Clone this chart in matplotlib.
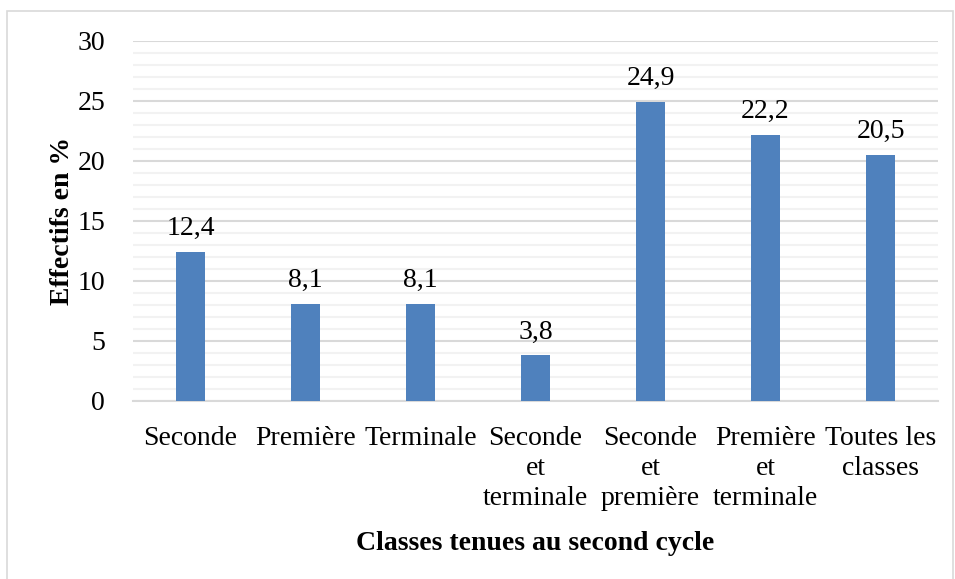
import matplotlib
matplotlib.use("Agg")
import matplotlib.pyplot as plt
from matplotlib.patches import Rectangle
import numpy as np

categories = ["Seconde", "Première", "Terminale", "Seconde\net\nterminale",
              "Seconde\net\npremière", "Première\net\nterminale", "Toutes les\nclasses"]
values = [12.4, 8.1, 8.1, 3.8, 24.9, 22.2, 20.5]
labels = ["12,4", "8,1", "8,1", "3,8", "24,9", "22,2", "20,5"]
yticks = [0, 5, 10, 15, 20, 25, 30]

plt.rcParams['font.family'] = ['Liberation Serif', 'DejaVu Serif']

W, H = 955, 579
fig = plt.figure(figsize=(W / 100, H / 100), dpi=100)
ax = fig.add_axes([133 / W, 1 - 401 / H, (938 - 133) / W, (401 - 41) / H])

x = np.arange(len(categories))
ax.bar(x, values, width=0.25, color="#4F81BD", zorder=3)
for xi, v, lab in zip(x, values, labels):
    ax.text(xi, v + 0.9, lab, ha="center", va="bottom", fontsize=20, color="#000000")

ax.set_xlim(-0.5, len(categories) - 0.5)
ax.set_ylim(0, 30)
ax.set_yticks(yticks)
ax.set_yticklabels([str(t) for t in yticks], fontsize=20)
ax.set_yticks(np.arange(0, 31, 1), minor=True)
ax.set_xticks(x)
ax.set_xticklabels(categories, fontsize=20, linespacing=1.27)
ax.tick_params(axis="both", which="both", length=0)
ax.tick_params(axis="y", pad=20)
ax.tick_params(axis="x", pad=18)
ax.grid(axis="y", which="major", color="#D9D9D9", linewidth=1.5, zorder=0)
ax.grid(axis="y", which="minor", color="#F2F2F2", linewidth=1.5, zorder=0)
for s in ["top", "right", "left"]:
    ax.spines[s].set_visible(False)
ax.spines["bottom"].set_color("#D9D9D9")
ax.spines["bottom"].set_linewidth(1.5)

ax.set_ylabel("Effectifs en %", fontsize=20, fontweight="bold", labelpad=2)
ax.set_xlabel("Classes tenues au second cycle", fontsize=20, fontweight="bold", labelpad=14)

fig.patches.append(Rectangle((7 / W, -0.01), (953 - 7) / W, 1 - 11 / H + 0.01,
                             transform=fig.transFigure, fill=False,
                             edgecolor="#D9D9D9", linewidth=1.2))

fig.savefig("out.png", dpi=100)
